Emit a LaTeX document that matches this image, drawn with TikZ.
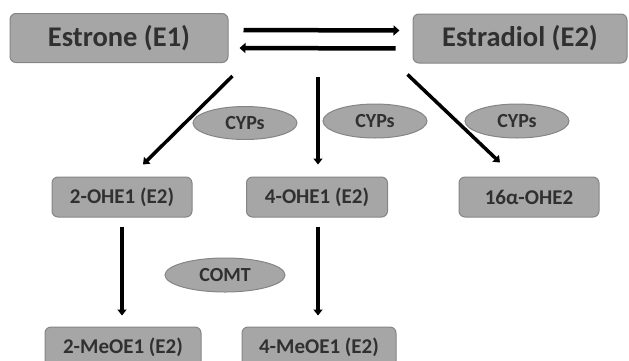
\documentclass[tikz,border=0pt]{standalone}
\usepackage{fontspec}
\setmainfont{Carlito}
\usepackage{tikz}
\usetikzlibrary{arrows.meta, positioning, shapes.geometric}
\definecolor{boxgray}{HTML}{A6A6A6}
\definecolor{edgegray}{HTML}{858585}
\definecolor{txtgray}{HTML}{303030}

\begin{document}
\begin{tikzpicture}[x=1pt, y=-1pt,
  box/.style={draw=edgegray, line width=1pt, fill=boxgray, rounded corners=6pt,
    text=txtgray, inner sep=0pt, minimum height=40pt,
    font=\bfseries\fontsize{21}{25}\selectfont},
  bigbox/.style={box, minimum height=49pt, font=\bfseries\fontsize{28.5}{32}\selectfont},
  enz/.style={ellipse, draw=edgegray, line width=1pt, fill=boxgray, text=txtgray,
    inner sep=0pt, minimum height=34pt, font=\bfseries\fontsize{20}{23}\selectfont},
  arr/.style={line width=3.5pt, -{Triangle[length=6pt, width=9pt]}},
  dblarr/.style={line width=4.5pt, -{Triangle[length=6pt, width=10pt]}}
]

  \clip (0,0) rectangle (629,360);

  % Estrogènes
  \node[bigbox, minimum width=218pt] (e1) at (119,38) {Estrone (E1)};
  \node[bigbox, minimum width=214pt] (e2) at (520,38.5) {Estradiol (E2)};

  % Métabolites
  \node[box, minimum width=140pt] (ohe2) at (122,197) {2-OHE1 (E2)};
  \node[box, minimum width=141pt] (ohe4) at (317,197) {4-OHE1 (E2)};
  \node[box, minimum width=140pt] (ohe16) at (529,197) {16α-OHE2};
  \node[box, minimum width=156pt] (meo2) at (123,347) {2-MeOE1 (E2)};
  \node[box, minimum width=154pt] (meo4) at (319,347) {4-MeOE1 (E2)};

  % Enzymes
  \node[enz, minimum width=104pt, minimum height=33pt] (cyp1) at (245,123) {CYPs};
  \node[enz, minimum width=104pt] (cyp2) at (375,121) {CYPs};
  \node[enz, minimum width=104pt] (cyp3) at (517,121) {CYPs};
  \node[enz, minimum width=120pt] (comt) at (225,275) {COMT};

  % Réactions
  \draw[dblarr, shorten <=15pt, shorten >=13pt] ([yshift=8pt]e1.east) -- ([yshift=8pt]e2.west);
  \draw[dblarr, shorten <=17pt, shorten >=11pt] ([yshift=-10pt]e2.west) -- ([yshift=-10pt]e1.east);

  \coordinate (fork) at (318,77);
  \draw[arr] ([shift={(4,13)}]e1.south east) -- ([shift={(21,-12)}]ohe2.north);
  \draw[arr, shorten >=12pt] (fork) -- (fork |- ohe4.north);
  \draw[arr] ([shift={(-5,11)}]e2.south west) -- ([shift={(-29,-14)}]ohe16.north);

  \draw[arr, shorten <=9pt, shorten >=11pt] (ohe2.south) -- (ohe2.south |- meo2.north);
  \draw[arr, shorten <=9pt, shorten >=11pt] ([xshift=1pt]ohe4.south) -- ([xshift=1pt]ohe4.south |- meo4.north);

\end{tikzpicture}
\end{document}
